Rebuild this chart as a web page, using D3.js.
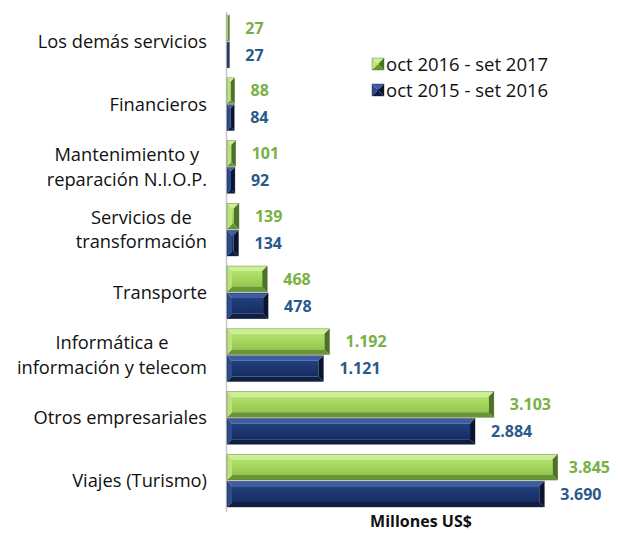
<!DOCTYPE html>
<html>
<head>
<meta charset="utf-8">
<script src="https://cdn.jsdelivr.net/npm/d3@7"></script>
<style>
  body { margin: 0; background: #fff; }
  svg { display: block; font-family: "Open Sans", Lato, sans-serif; }
</style>
</head>
<body>
<div id="chart"></div>
<script>
// categories, top to bottom (each label may wrap on two lines)
const categories = [
  ["Los demás servicios"],
  ["Financieros"],
  ["Mantenimiento y", "reparación N.I.O.P."],
  ["Servicios de", "transformación"],
  ["Transporte"],
  ["Informática e", "información y telecom"],
  ["Otros empresariales"],
  ["Viajes (Turismo)"]
];
const series2017 = [27, 88, 101, 139, 468, 1192, 3103, 3845];
const series2016 = [27, 84, 92, 134, 478, 1121, 2884, 3690];
const seriesNames = ["oct 2016 - set 2017", "oct 2015 - set 2016"];

const width = 619, height = 533;
const margin = {top: 10, right: 48, bottom: 21, left: 227};

const svg = d3.select("#chart")
  .append("svg")
  .attr("width", width)
  .attr("height", height);

// Spanish style numbers: 1.192
const fmt = d3.formatLocale({decimal: ",", thousands: ".", grouping: [3], currency: ["", ""]}).format(",d");

// scales
const x = d3.scaleLinear()
  .domain([0, 4000])
  .range([margin.left, width - margin.right]);

const y = d3.scaleBand()
  .domain(d3.range(categories.length))
  .range([margin.top, height - margin.bottom])
  .paddingInner(0.16)
  .paddingOuter(0.08);

const sub = d3.scaleBand()
  .domain([0, 1])
  .range([0, y.bandwidth()])
  .paddingInner(0.04);

// colours for the bevelled bars
const looks = [
  {top: "#cdef94", left: "#bbe27c", mid1: "#b4e26e", mid2: "#93c74c", bottom: "#6a9533", right: "#4d7125", edge: "#3f5d1f", label: "#79b043"},
  {top: "#3d5d9e", left: "#2b4b8b", mid1: "#22407e", mid2: "#152c62", bottom: "#0e1e45", right: "#0a1532", edge: "#0a1430", label: "#2a5a8c"}
];

const defs = svg.append("defs");
looks.forEach((c, i) => {
  const g = defs.append("linearGradient")
    .attr("id", "mid" + i)
    .attr("x1", 0).attr("x2", 0).attr("y1", 0).attr("y2", 1);
  g.append("stop").attr("offset", "0%").attr("stop-color", c.mid1);
  g.append("stop").attr("offset", "100%").attr("stop-color", c.mid2);
});

// draws one bevelled rectangle
function bevelBar(g, x0, x1, y0, h, i) {
  const c = looks[i];
  const w = x1 - x0;
  const b = Math.min(5, w / 2, h / 2);
  const y1 = y0 + h;
  const poly = (pts, fill) => g.append("polygon")
    .attr("points", pts.map(p => p.join(",")).join(" "))
    .attr("fill", fill);
  g.append("rect")
    .attr("x", x0 + b).attr("y", y0 + b)
    .attr("width", Math.max(0, w - 2 * b)).attr("height", Math.max(0, h - 2 * b))
    .attr("fill", `url(#mid${i})`);
  poly([[x0, y0], [x1, y0], [x1 - b, y0 + b], [x0 + b, y0 + b]], c.top);
  poly([[x0, y1], [x1, y1], [x1 - b, y1 - b], [x0 + b, y1 - b]], c.bottom);
  poly([[x0, y0], [x0 + b, y0 + b], [x0 + b, y1 - b], [x0, y1]], c.left);
  poly([[x1, y0], [x1 - b, y0 + b], [x1 - b, y1 - b], [x1, y1]], c.right);
  g.append("rect")
    .attr("x", x0).attr("y", y0)
    .attr("width", w).attr("height", h)
    .attr("fill", "none")
    .attr("stroke", c.edge)
    .attr("stroke-opacity", 0.6)
    .attr("stroke-width", 0.6);
}

// axis line
svg.append("line")
  .attr("x1", x(0) - 0.5).attr("x2", x(0) - 0.5)
  .attr("y1", margin.top + 2).attr("y2", height - margin.bottom)
  .attr("stroke", "#c8c8c8")
  .attr("stroke-width", 1.5);

// bars and value labels
const allSeries = [series2017, series2016];
const barsG = svg.append("g");
const labelsG = svg.append("g");

categories.forEach((cat, k) => {
  allSeries.forEach((vals, s) => {
    const v = vals[k];
    const y0 = y(k) + sub(s);
    const h = sub.bandwidth();
    bevelBar(barsG, x(0), x(v), y0, h, s);

    const t = labelsG.append("text")
      .attr("y", y0 + h / 2)
      .attr("dy", "0.36em")
      .attr("font-size", 16)
      .attr("font-weight", "bold")
      .attr("fill", looks[s].label)
      .text(fmt(v));
    const tw = t.node().getComputedTextLength();
    t.attr("x", Math.min(x(v) + 16, width - 9 - tw));
  });
});

// category labels: block right-aligned, lines centred within block
const catG = svg.append("g")
  .attr("font-size", 18.3)
  .attr("fill", "#111");
const labelRight = 207;
const lineH = 24.5;
categories.forEach((lines, k) => {
  const cy = y(k) + y.bandwidth() / 2;
  const texts = lines.map((ln, j) => catG.append("text")
    .attr("y", cy + (j - (lines.length - 1) / 2) * lineH)
    .attr("dy", "0.36em")
    .attr("text-anchor", "middle")
    .text(ln));
  const maxW = d3.max(texts, t => t.node().getComputedTextLength());
  texts.forEach(t => t.attr("x", labelRight - maxW / 2));
});

// legend
const legend = svg.append("g");
seriesNames.forEach((name, s) => {
  const ly = 64 + s * 26;
  const lg = legend.append("g");
  bevelBar(lg, 372, 384, ly - 6, 12, s);
  legend.append("text")
    .attr("x", 386)
    .attr("y", ly)
    .attr("dy", "0.36em")
    .attr("font-size", 18.5)
    .attr("fill", "#111")
    .text(name);
});

// axis title
svg.append("text")
  .attr("x", 421)
  .attr("y", 527)
  .attr("text-anchor", "middle")
  .attr("font-size", 16)
  .attr("font-weight", "bold")
  .attr("fill", "#111")
  .text("Millones US$");
</script>
</body>
</html>
